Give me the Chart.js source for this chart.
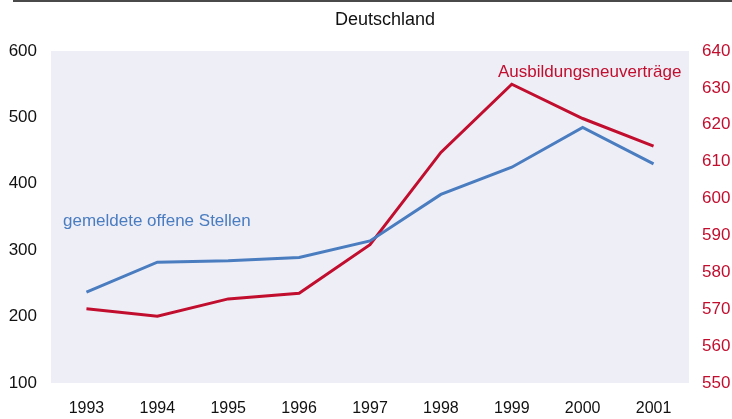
<!DOCTYPE html>
<html>
<head>
<meta charset="utf-8">
<script src="https://cdn.jsdelivr.net/npm/chart.js@4.4.1/dist/chart.umd.min.js"></script>
<style>
html,body{margin:0;padding:0;background:#fff;}
#wrap{width:732px;height:419px;position:relative;}
</style>
</head>
<body>
<div id="wrap"><canvas id="c" width="732" height="419"></canvas></div>
<script>
const years = ['1993','1994','1995','1996','1997','1998','1999','2000','2001'];
const offeneStellen = [237, 282, 284, 289, 314, 384, 425, 485, 430];
const ausbildungsvertraege = [570.1, 568.1, 572.8, 574.3, 587.5, 612.5, 631.0, 621.7, 614.2];
const leftTicks = [100, 600, 100];   // min, max, step
const rightTicks = [550, 640, 10];   // min, max, step
const titleText = 'Deutschland';
const labelBlue = 'gemeldete offene Stellen';
const labelRed = 'Ausbildungsneuverträge';

const BLUE = '#4a7cc0';
const RED = '#c20e2e';
const FONT = '"Liberation Sans", Arial, sans-serif';

const decor = {
  id: 'decor',
  beforeDraw(chart) {
    const {ctx, chartArea: a} = chart;
    ctx.save();
    ctx.fillStyle = '#eeeef7';
    ctx.fillRect(a.left, a.top, a.right - a.left, a.bottom - a.top);
    // top rule
    ctx.fillStyle = '#4a4a4a';
    ctx.fillRect(13, 0, chart.width - 13, 2);
    ctx.restore();
  },
  afterDraw(chart) {
    const {ctx, chartArea: a} = chart;
    ctx.save();
    ctx.textBaseline = 'middle';
    ctx.fillStyle = '#111';
    ctx.font = '18px ' + FONT;
    ctx.textAlign = 'center';
    ctx.fillText(titleText, a.left + 334, 20);
    ctx.textAlign = 'left';
    ctx.font = '17px ' + FONT;
    ctx.fillStyle = RED;
    ctx.fillText(labelRed, a.left + 447, 72);
    ctx.fillStyle = BLUE;
    ctx.fillText(labelBlue, a.left + 12, 221);
    ctx.restore();
  }
};

new Chart(document.getElementById('c'), {
  type: 'line',
  data: {
    labels: years,
    datasets: [
      {label: labelBlue, data: offeneStellen, yAxisID: 'y', borderColor: BLUE, borderWidth: 3, pointRadius: 0, tension: 0, fill: false},
      {label: labelRed, data: ausbildungsvertraege, yAxisID: 'y2', borderColor: RED, borderWidth: 3, pointRadius: 0, tension: 0, fill: false}
    ]
  },
  options: {
    responsive: false,
    animation: false,
    layout: {padding: {top: 51, bottom: 0, left: 0, right: 0}},
    plugins: {legend: {display: false}, title: {display: false}, tooltip: {enabled: false}},
    scales: {
      x: {
        offset: true,
        grid: {display: false, drawTicks: false, tickLength: 0},
        border: {display: false},
        ticks: {color: '#111', font: {family: FONT, size: 16}, padding: 16, maxRotation: 0},
        afterFit(s) { s.height = 36; }
      },
      y: {
        position: 'left',
        min: leftTicks[0], max: leftTicks[1],
        grid: {display: false, drawTicks: false, tickLength: 0},
        border: {display: false},
        ticks: {stepSize: leftTicks[2], color: '#111', font: {family: FONT, size: 17}, padding: 14},
        afterFit(s) { s.width = 51; }
      },
      y2: {
        position: 'right',
        min: rightTicks[0], max: rightTicks[1],
        grid: {display: false, drawTicks: false, tickLength: 0},
        border: {display: false},
        ticks: {stepSize: rightTicks[2], color: RED, font: {family: FONT, size: 17}, padding: 13},
        afterFit(s) { s.width = 43; }
      }
    }
  },
  plugins: [decor]
});
</script>
</body>
</html>
